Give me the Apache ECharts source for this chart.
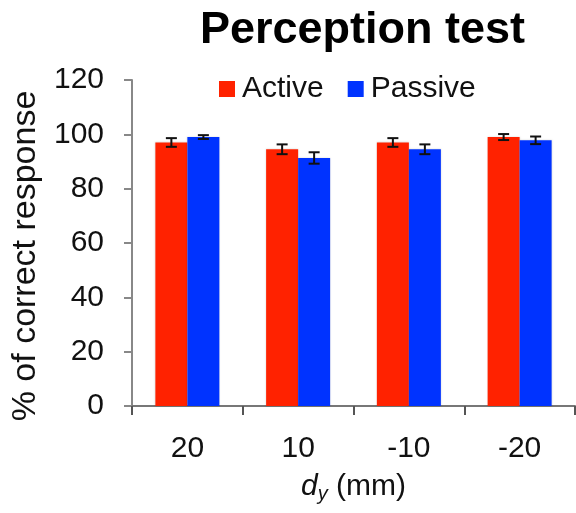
<!DOCTYPE html>
<html>
<head>
<meta charset="utf-8">
<script src="https://cdn.jsdelivr.net/npm/echarts@6/dist/echarts.min.js"></script>
<style>html,body{margin:0;padding:0;background:#fff;}#c{width:576px;height:513px;}</style>
</head>
<body>
<div id="c"></div>
<script>
const categories = ['20', '10', '-10', '-20'];
const activeValues = [97, 94.5, 97, 99];
const activeErrors = [1.6, 1.8, 1.6, 1.1];
const passiveValues = [99, 91.3, 94.5, 97.8];
const passiveErrors = [0.7, 2.1, 1.8, 1.4];
const yTicks = [0, 20, 40, 60, 80, 100, 120];

const FONT = '"Liberation Sans", Arial, sans-serif';
const BAR_W = 32;

function errData(vals, errs, sign) {
  return vals.map((v, i) => [i, v, errs[i], sign]);
}

function renderErr(params, api) {
  const i = api.value(0), v = api.value(1), e = api.value(2), s = api.value(3);
  const top = api.coord([i, v + e]);
  const bot = api.coord([i, v - e]);
  const x = top[0] + s * BAR_W / 2;
  const cap = 5.5;
  const style = { stroke: '#111', lineWidth: 2 };
  return {
    type: 'group',
    children: [
      { type: 'line', shape: { x1: x, y1: top[1], x2: x, y2: bot[1] }, style },
      { type: 'line', shape: { x1: x - cap, y1: top[1], x2: x + cap, y2: top[1] }, style },
      { type: 'line', shape: { x1: x - cap, y1: bot[1], x2: x + cap, y2: bot[1] }, style }
    ]
  };
}

const chart = echarts.init(document.getElementById('c'));
chart.setOption({
  animation: false,
  backgroundColor: '#fff',
  textStyle: { fontFamily: FONT },
  title: {
    text: 'Perception test',
    left: 195, top: 3,
    textStyle: { fontSize: 45, fontWeight: 'bold', color: '#000', fontFamily: FONT }
  },
  legend: {
    data: ['Active', 'Passive'],
    left: 214, top: 69,
    itemWidth: 16, itemHeight: 16, itemGap: 24,
    icon: 'rect',
    textStyle: { fontSize: 30, color: '#111', fontFamily: FONT, padding: [0, 0, 0, 2] }
  },
  grid: { left: 132, right: 1, top: 80, bottom: 107, containLabel: false },
  xAxis: {
    type: 'category',
    data: categories,
    axisLine: { lineStyle: { color: '#777', width: 2 } },
    axisTick: { show: true, length: 9, lineStyle: { color: '#555', width: 2 } },
    axisLabel: { fontSize: 30, color: '#111', margin: 28, fontFamily: FONT },
    name: '{d|d}{s|y}{n| (mm)}',
    nameLocation: 'middle',
    nameGap: 64,
    nameTextStyle: {
      rich: {
        d: { fontSize: 30, fontStyle: 'italic', color: '#111', fontFamily: FONT },
        s: { fontSize: 20, fontStyle: 'italic', color: '#111', fontFamily: FONT, padding: [14, 0, 0, 0] },
        n: { fontSize: 30, color: '#111', fontFamily: FONT }
      }
    }
  },
  yAxis: {
    type: 'value',
    min: 0, max: 120, interval: 20,
    axisLine: { show: true, lineStyle: { color: '#888', width: 2 } },
    axisTick: { show: true, length: 8, lineStyle: { color: '#888', width: 2 } },
    splitLine: { show: false },
    axisLabel: { fontSize: 30, color: '#111', margin: 28, fontFamily: FONT,
      formatter: v => yTicks.includes(v) ? String(v) : '' },
    name: '% of correct response',
    nameLocation: 'middle',
    nameRotate: 90,
    nameGap: 86,
    nameTextStyle: { fontSize: 34, color: '#111', fontFamily: FONT, padding: [0, 26, 0, 0] }
  },
  series: [
    {
      name: 'Active', type: 'bar', data: activeValues,
      barWidth: BAR_W, barGap: '0%',
      itemStyle: { color: '#ff2200', shadowColor: 'rgba(0,0,0,0.15)', shadowBlur: 2 }
    },
    {
      name: 'Passive', type: 'bar', data: passiveValues,
      barWidth: BAR_W, barGap: '0%',
      itemStyle: { color: '#0033ff', shadowColor: 'rgba(0,0,0,0.15)', shadowBlur: 2 }
    },
    {
      type: 'custom', name: 'errA', renderItem: renderErr,
      data: errData(activeValues, activeErrors, -1), z: 10,
      encode: { x: 0, y: 1 }
    },
    {
      type: 'custom', name: 'errP', renderItem: renderErr,
      data: errData(passiveValues, passiveErrors, 1), z: 10,
      encode: { x: 0, y: 1 }
    }
  ]
});
</script>
</body>
</html>
